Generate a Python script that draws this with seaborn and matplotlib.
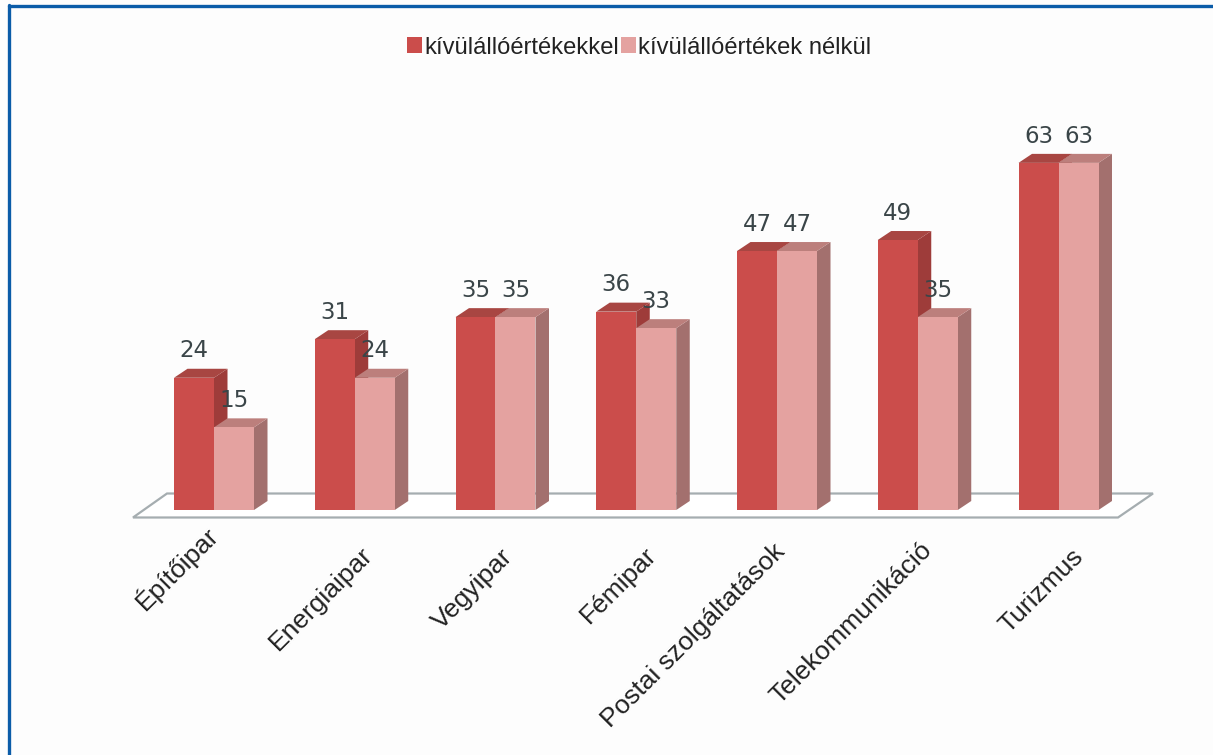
import matplotlib
matplotlib.use("Agg")
import matplotlib.pyplot as plt
from matplotlib.lines import Line2D
from matplotlib.patches import Polygon, Patch
from matplotlib.transforms import ScaledTranslation
import pandas as pd
import seaborn as sns

categories = ["Építőipar", "Energiaipar", "Vegyipar", "Fémipar",
              "Postai szolgáltatások", "Telekommunikáció", "Turizmus"]
with_outliers = [24, 31, 35, 36, 47, 49, 63]
without_outliers = [15, 24, 35, 33, 47, 35, 63]
series_names = ["kívülállóértékekkel", "kívülállóértékek nélkül"]

W, H = 1213, 755
BG = "#fdfdfd"
FRONT = ["#cb4d4b", "#e4a2a0"]
TOP = ["#a84642", "#bc7f7c"]
SIDE = ["#9e3c3a", "#a3706e"]

sns.set_theme(style="white")
plt.rcParams["font.family"] = ["Liberation Sans", "DejaVu Sans"]

df = pd.DataFrame({
    "cat": categories * 2,
    "val": with_outliers + without_outliers,
    "series": [series_names[0]] * len(categories) + [series_names[1]] * len(categories),
})

fig = plt.figure(figsize=(W / 100, H / 100), dpi=100, facecolor=BG)
ax_l, ax_r, ax_top, ax_bot = 133, 1153, 90, 517.5
ax = fig.add_axes([ax_l / W, 1 - ax_bot / H, (ax_r - ax_l) / W, (ax_bot - ax_top) / H])
ax.set_facecolor("none")

step_px = 140.75
unit_px = 5.51
sns.barplot(data=df, x="cat", y="val", hue="series", order=categories,
            hue_order=series_names, palette=FRONT, saturation=1,
            width=80 / step_px, gap=0, dodge=True, legend=False, ax=ax)

ax.set_xlim(-(214 - ax_l) / step_px, 6 + (ax_r - 1058.5) / step_px)
ax.set_ylim(-(ax_bot - 510) / unit_px, (510 - ax_top) / unit_px)

# floor plate
h_ax = ax_bot - ax_top
w_ax = ax_r - ax_l
ax.add_patch(Polygon([(0, 0), (1 - 35 / w_ax, 0), (1, 24 / h_ax), (34 / w_ax, 24 / h_ax)],
                     closed=True, transform=ax.transAxes, facecolor="white",
                     edgecolor="#a5adb0", linewidth=1.6, zorder=1, clip_on=False))

# 3D depth from each bar
dx = 13.5 / step_px
dy = 9 / unit_px
for i, cont in enumerate(ax.containers):
    base_z = 2 + 2 * i
    for bar in cont:
        x0, w, y1 = bar.get_x(), bar.get_width(), bar.get_height()
        x1 = x0 + w
        bar.set_zorder(base_z + 1)
        bar.set_edgecolor("none")
        ax.add_patch(Polygon([(x1, 0), (x1 + dx, dy), (x1 + dx, y1 + dy), (x1, y1)],
                             closed=True, facecolor=SIDE[i], edgecolor="none", zorder=base_z))
        ax.add_patch(Polygon([(x0, y1), (x0 + dx, y1 + dy), (x1 + dx, y1 + dy), (x1, y1)],
                             closed=True, facecolor=TOP[i], edgecolor="none", zorder=base_z))
    ax.bar_label(cont, padding=11, fontsize=16.5, color="#3a4548",
                 family="DejaVu Sans", zorder=8)

ax.set_xlabel("")
ax.set_ylabel("")
ax.set_yticks([])
ax.tick_params(axis="x", length=0, pad=18)
ax.set_xticks(range(len(categories)))
ax.set_xticklabels(categories, rotation=45, ha="right", va="top",
                   rotation_mode="anchor", fontsize=19, color="#222222")
# individual label nudges in pixels (x right, y down)
nudges = [(-10, -22), (6, 0), (5, 2), (8, 0), (-4, -3), (2, -5), (13, 2)]
for lab, (nx, ny) in zip(ax.get_xticklabels(), nudges):
    lab.set_transform(lab.get_transform()
                      + ScaledTranslation(nx / 100, -ny / 100, fig.dpi_scale_trans))
for s in ax.spines.values():
    s.set_visible(False)

handles = [Patch(facecolor=c, edgecolor="none") for c in FRONT]
leg = fig.legend(handles, series_names, ncol=2, frameon=False, fontsize=17.1,
                 loc="center", bbox_to_anchor=(639 / W, 1 - 47.5 / H),
                 handlelength=0.62, handleheight=0.62, handletextpad=0.1,
                 columnspacing=0.1, labelcolor="#222222", borderpad=0)

# page frame
fig.add_artist(Line2D([9 / W, 1], [1 - 6 / H, 1 - 6 / H], color="#0b5ca8", lw=2.4,
                      transform=fig.transFigure))
fig.add_artist(Line2D([9 / W, 9 / W], [0, 1 - 5 / H], color="#0b5ca8", lw=2.4,
                      transform=fig.transFigure))

fig.savefig("out.png", dpi=100, facecolor=BG)
